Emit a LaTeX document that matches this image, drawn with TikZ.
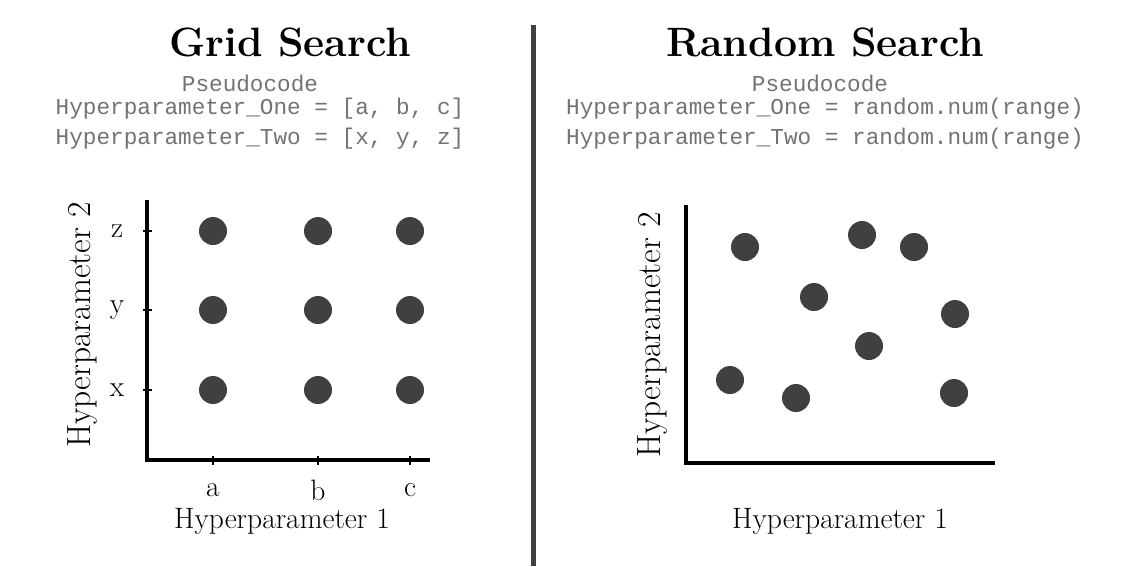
\documentclass[tikz,border=0pt]{standalone}
\usepackage{fontspec}
\newfontfamily\monof{Liberation Mono}
\begin{document}
\begin{tikzpicture}[x=1pt,y=-1pt,
  dot/.style={circle,fill=black!75,inner sep=0pt,minimum size=28pt},
  code/.style={font=\monof\fontsize{22.7}{24}\selectfont,text=black!55,inner sep=0pt},
  ttl/.style={font=\bfseries\fontsize{41}{44}\selectfont,inner sep=0pt},
  lab/.style={font=\fontsize{29.5}{31}\selectfont,inner sep=0pt},
  vlab/.style={font=\fontsize{33.5}{35}\selectfont,inner sep=0pt,rotate=90},
  axis/.style={line width=3.5pt,black}]
\useasboundingbox (0,0) rectangle (1127,566);
\fill[white] (0,0) rectangle (1127,566);
\coordinate (dt) at (533,25); \coordinate (db) at (533,566);
\draw[line width=5pt,black!75] (dt) -- (db);
% left
\node[ttl] (t1) at (290,42) {Grid Search};
\node[code] (p1) at (250,83) {Pseudocode};
\node[code] (l1a) at (260,109) {Hyperparameter\_One = [a, b, c]};
\node[code] (l1b) at (260,139) {Hyperparameter\_Two = [x, y, z]};
\coordinate (o1) at (147,460); \coordinate (y1) at (147,200); \coordinate (x1) at (430,460);
\draw[axis] (y1) -- (o1) -- (x1);
\foreach \yy/\t in {231/z,310/y,390/x}{
  \coordinate (tk\t) at (147,\yy);
  \draw[line width=1.5pt] ([xshift=-4pt]tk\t) -- ([xshift=5pt]tk\t);
  \node[lab] at (117,\yy) {\t};
  \foreach \xx in {213,318,410}{\node[dot] at (\xx,\yy) {};}
}
\foreach \xx/\t in {213/a,318/b,410/c}{
  \coordinate (tx\t) at (\xx,460);
  \draw[line width=1.5pt] ([yshift=-5pt]tx\t) -- ([yshift=4pt]tx\t);
  \node[lab] at (\xx,490) {\t};
}
\node[lab] (hx1) at (282,521) {Hyperparameter 1};
\node[vlab] (hy1) at (82,325) {Hyperparameter 2};
% right
\node[ttl] (t2) at (825,42) {Random Search};
\node[code] (p2) at (820,83) {Pseudocode};
\node[code] (l2a) at (825,109) {Hyperparameter\_One = random.num(range)};
\node[code] (l2b) at (825,139) {Hyperparameter\_Two = random.num(range)};
\coordinate (o2) at (686,463); \coordinate (y2) at (686,205); \coordinate (x2) at (995,463);
\draw[axis] (y2) -- (o2) -- (x2);
\foreach \p in {(745,247),(862,235),(914,247),(814,297),(955,314),(869,346),(730,380),(796,398),(954,393)}
  \node[dot] at \p {};
\node[lab] (hx2) at (840,521) {Hyperparameter 1};
\node[vlab] (hy2) at (652,335) {Hyperparameter 2};
\end{tikzpicture}
\end{document}
